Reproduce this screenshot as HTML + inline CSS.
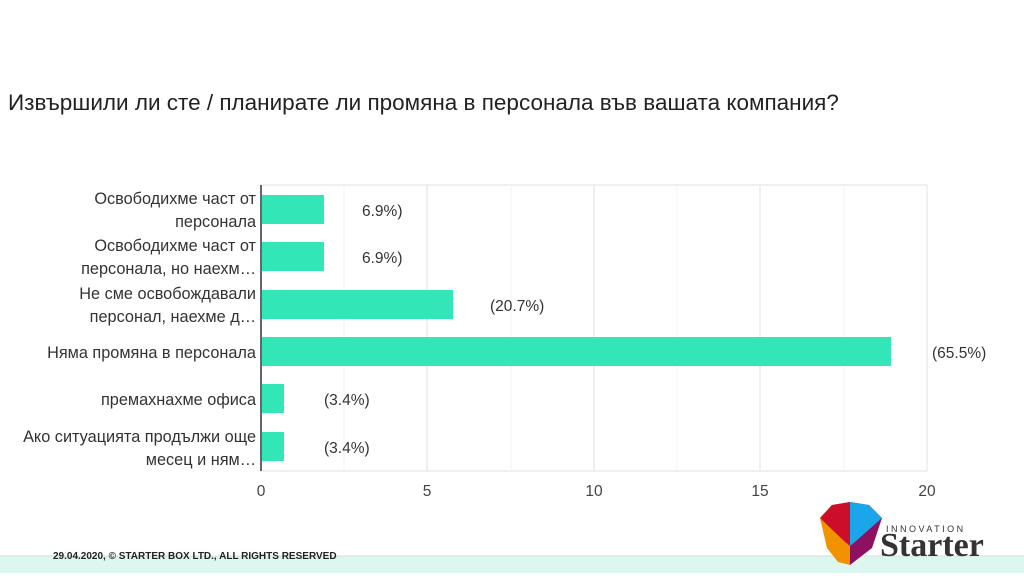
<!DOCTYPE html>
<html><head><meta charset="utf-8"><style>
body{margin:0;width:1024px;height:576px;background:#fff;overflow:hidden;font-family:"Liberation Sans",sans-serif}
</style></head><body>
<svg width="1024" height="576" xmlns="http://www.w3.org/2000/svg" font-family="Liberation Sans, sans-serif">
<text x="8" y="110" font-size="22.5" fill="#222">Извършили ли сте / планирате ли промяна в персонала във вашата компания?</text>
<g stroke="#f3f3f3" stroke-width="1">
<line x1="344" y1="185" x2="344" y2="471"/><line x1="511" y1="185" x2="511" y2="471"/><line x1="677" y1="185" x2="677" y2="471"/><line x1="844" y1="185" x2="844" y2="471"/>
</g>
<g stroke="#e2e2e2" stroke-width="1">
<line x1="261" y1="185" x2="927" y2="185"/>
<line x1="427" y1="185" x2="427" y2="471"/><line x1="594" y1="185" x2="594" y2="471"/><line x1="760" y1="185" x2="760" y2="471"/><line x1="927" y1="185" x2="927" y2="471"/>
<line x1="261" y1="471" x2="927" y2="471"/>
</g>
<g fill="#33e6b8">
<rect x="262" y="195" width="62" height="29"/>
<rect x="262" y="242" width="62" height="29"/>
<rect x="262" y="290" width="191" height="29"/>
<rect x="262" y="337" width="629" height="29"/>
<rect x="262" y="384" width="22" height="29"/>
<rect x="262" y="432" width="22" height="29"/>
</g>
<line x1="261" y1="185" x2="261" y2="471" stroke="#333" stroke-width="1.5"/>
<g font-size="16.3" fill="#333" text-anchor="end">
<text x="256" y="204">Освободихме част от</text><text x="256" y="227">персонала</text>
<text x="256" y="251">Освободихме част от</text><text x="256" y="274">персонала, но наехм…</text>
<text x="256" y="299">Не сме освобождавали</text><text x="256" y="322">персонал, наехме д…</text>
<text x="256" y="358">Няма промяна в персонала</text>
<text x="256" y="405">премахнахме офиса</text>
<text x="256" y="442">Ако ситуацията продължи още</text><text x="256" y="465">месец и ням…</text>
</g>
<g font-size="15.5" fill="#333">
<text x="362" y="216">6.9%)</text>
<text x="362" y="263">6.9%)</text>
<text x="490" y="311">(20.7%)</text>
<text x="932" y="358">(65.5%)</text>
<text x="324" y="405">(3.4%)</text>
<text x="324" y="453">(3.4%)</text>
</g>
<g font-size="15.5" fill="#444" text-anchor="middle">
<text x="261" y="496">0</text><text x="427" y="496">5</text><text x="594" y="496">10</text><text x="760" y="496">15</text><text x="927" y="496">20</text>
</g>
<rect x="0" y="556" width="1024" height="17" fill="#dcf7ef"/>
<line x1="0" y1="556" x2="1024" y2="556" stroke="#ddd"/>
<text x="53" y="559" font-size="10" font-weight="bold" fill="#222">29.04.2020, © STARTER BOX LTD., ALL RIGHTS RESERVED</text>
<polygon points="820,518 832,505 850,502 850,565 838,562 827,548" fill="#f39200"/>
<polygon points="820,518 832,505 850,502 850,546 844,541" fill="#cc0e2a"/>
<polygon points="850,502 869,505 882,518 872,548 850,565" fill="#8e1060"/>
<polygon points="850,502 869,505 882,518 856,541 850,546" fill="#1aa6e8"/>
<text x="886" y="532" font-size="9" fill="#333" letter-spacing="2.5">INNOVATION</text>
<text x="880" y="556" font-size="34" font-weight="bold" font-family="Liberation Serif, serif" fill="#333">Starter</text>
</svg>
</body></html>
